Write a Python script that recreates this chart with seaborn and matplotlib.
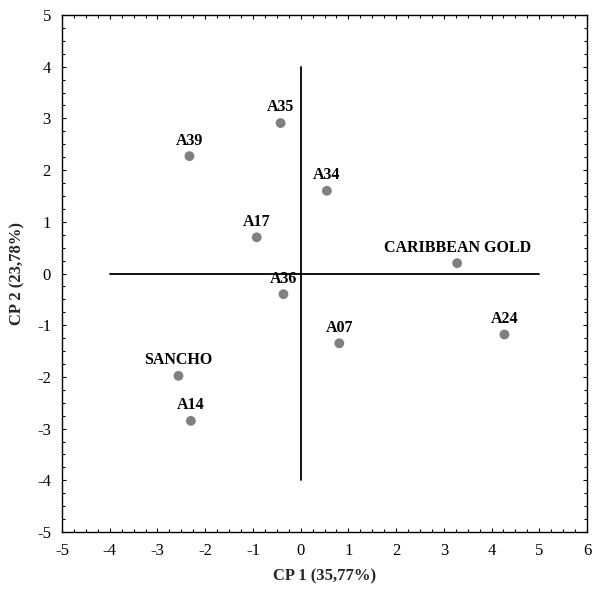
import matplotlib
matplotlib.use("Agg")
import matplotlib.pyplot as plt
import seaborn as sns
import pandas as pd
from matplotlib.ticker import MultipleLocator

labels = ["A35", "A39", "A34", "A17", "CARIBBEAN GOLD", "A36", "A07", "A24", "SANCHO", "A14"]
cp1 = [-0.42, -2.33, 0.55, -0.92, 3.28, -0.36, 0.81, 4.27, -2.56, -2.30]
cp2 = [2.91, 2.27, 1.60, 0.70, 0.20, -0.40, -1.35, -1.18, -1.98, -2.85]
x_ticks = list(range(-5, 7))
y_ticks = list(range(-5, 6))
x_label = "CP 1 (35,77%)"
y_label = "CP 2 (23,78%)"

df = pd.DataFrame({"label": labels, "cp1": cp1, "cp2": cp2})

sns.set_style("ticks")
plt.rcParams["font.family"] = ["Liberation Serif", "DejaVu Serif"]
plt.rcParams["axes.unicode_minus"] = False

fig = plt.figure(figsize=(5.92, 5.90), dpi=100)
ax = fig.add_axes([62/592, 1-532/590, (587-62)/592, (532-15)/590])

# reference axes lines
ax.plot([-4, 5], [0, 0], color="black", lw=1.3, zorder=1)
ax.plot([0, 0], [-4, 4], color="black", lw=1.3, zorder=1)

sns.scatterplot(data=df, x="cp1", y="cp2", ax=ax, color="#808080",
                s=50, edgecolor="none", zorder=3)

for lab, xv, yv in zip(labels, cp1, cp2):
    ax.annotate(lab, (xv, yv), xytext=(0, 5.5), textcoords="offset points",
                ha="center", va="bottom", fontsize=11.5, fontweight="bold",
                color="black")

ax.set_xlim(-5, 6)
ax.set_ylim(-5, 5)
ax.set_xticks(x_ticks)
ax.set_yticks(y_ticks)
ax.xaxis.set_minor_locator(MultipleLocator(0.25))
ax.yaxis.set_minor_locator(MultipleLocator(0.25))
ax.tick_params(which="both", direction="in", top=True, right=True,
               labelsize=12, colors="black")
ax.tick_params(which="major", length=3, width=0.8, pad=8)
ax.tick_params(which="minor", length=2, width=0.8)
for s in ax.spines.values():
    s.set_linewidth(1.0)
    s.set_color("black")

ax.set_xlabel(x_label, fontsize=12, fontweight="bold", labelpad=7)
ax.set_ylabel(y_label, fontsize=12, fontweight="bold", labelpad=8)

fig.savefig("out.png", dpi=100)
